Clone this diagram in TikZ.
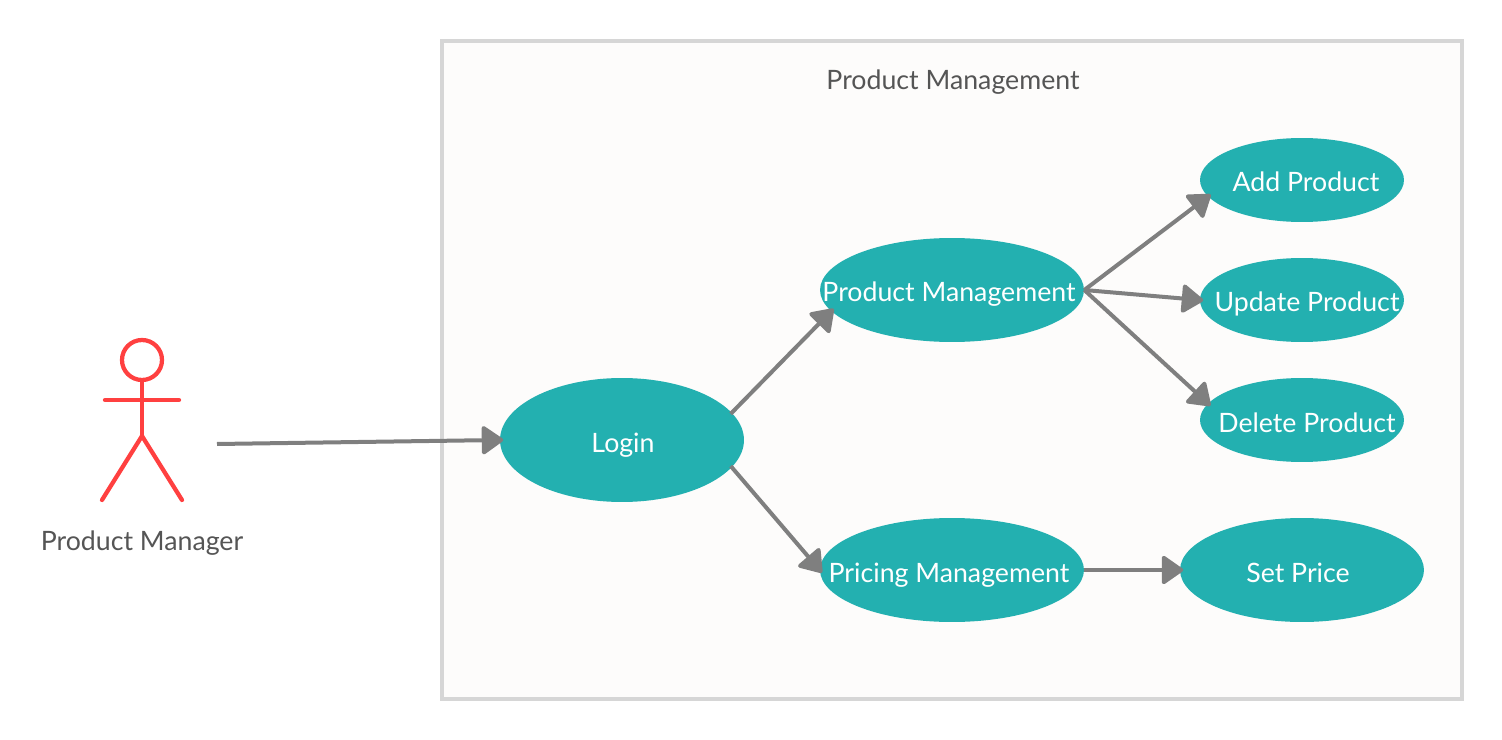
\documentclass[tikz,border=0pt]{standalone}
\usepackage{fontspec}
\setmainfont{Lato}
\usetikzlibrary{arrows.meta,shapes.geometric}
\definecolor{teal}{HTML}{23B0B0}
\definecolor{coral}{HTML}{FF4040}
\definecolor{steel}{HTML}{7F7F7F}
\definecolor{frameline}{HTML}{D6D6D6}
\definecolor{framefill}{HTML}{FDFCFB}
\definecolor{ink}{HTML}{555555}
\newcommand{\ctext}[2][0cm]{\makebox[0pt]{\hspace*{#1}#2}}
\tikzset{
  unode/.style={ellipse,fill=teal,text=white,inner sep=0pt,text height=0.5cm,text depth=0.02cm,
    font=\fontsize{15.2}{16}\selectfont},
  bignode/.style={unode,minimum width=4.88cm,minimum height=2.48cm},
  midnode/.style={unode,minimum width=5.28cm,minimum height=2.08cm},
  smallnode/.style={unode,minimum width=4.08cm,minimum height=1.68cm},
  tnode/.style={text=ink,inner sep=0pt,text height=0.5cm,text depth=0.02cm,font=\fontsize{15.2}{16}\selectfont},
  uedge/.style={-{Triangle[length=0.46cm,width=0.62cm,round]},line width=0.08cm,color=steel,shorten >=-2pt},
  aedge/.style={line width=0.085cm,color=coral,line cap=round},
}
\begin{document}
\begin{tikzpicture}[x=0.02cm,y=-0.02cm]
  \useasboundingbox (0,0) rectangle (1502,740);
  \node[draw=frameline,fill=framefill,line width=0.09cm,minimum width=20.4cm,minimum height=13.16cm,inner sep=0pt] (frame) at (952,370){};
  \node[tnode] (title) at (953,78){Product Management};
  % actor
  \node[circle,draw=coral,line width=0.085cm,minimum size=0.8cm,inner sep=0pt] (head) at (142,360){};
  \coordinate (hip) at (142,436); \coordinate (larm) at (105,400); \coordinate (rarm) at (179,400);
  \coordinate (lfoot) at (102,500); \coordinate (rfoot) at (182,500); \coordinate (hand) at (217,444);
  \draw[aedge] (head)--(hip); \draw[aedge] (larm)--(rarm);
  \draw[aedge] (lfoot)--(hip)--(rfoot);
  \node[tnode] (manager) at (142,538){Product Manager};
  % use cases
  \node[bignode] (login) at (622,440){\ctext[0.04cm]{Login}};
  \node[midnode] (prod) at (952,290){\ctext[-0.12cm]{Product Management}};
  \node[midnode] (pricing) at (952,570){\ctext[-0.12cm]{Pricing Management}};
  \node[smallnode] (add) at (1302,180){\ctext[0.16cm]{Add Product}};
  \node[smallnode] (update) at (1302,300){\ctext[0.2cm]{Update Product}};
  \node[smallnode] (delete) at (1302,420){\ctext[0.2cm]{Delete Product}};
  \node[bignode,minimum height=2.08cm] (price) at (1302,570){\ctext[-0.16cm]{Set Price}};
  \draw[uedge] (hand)--(login.west);
  \draw[uedge,shorten <=-1pt] (login.14)--(prod.190);
  \draw[uedge,shorten <=-1pt] (login.-14)--(pricing.west);
  \draw[uedge] (prod.east)--(add.190);
  \draw[uedge] (prod.east)--(update.west);
  \draw[uedge] (prod.east)--(delete.170);
  \draw[uedge] (pricing.east)--(price.west);
\end{tikzpicture}
\end{document}
